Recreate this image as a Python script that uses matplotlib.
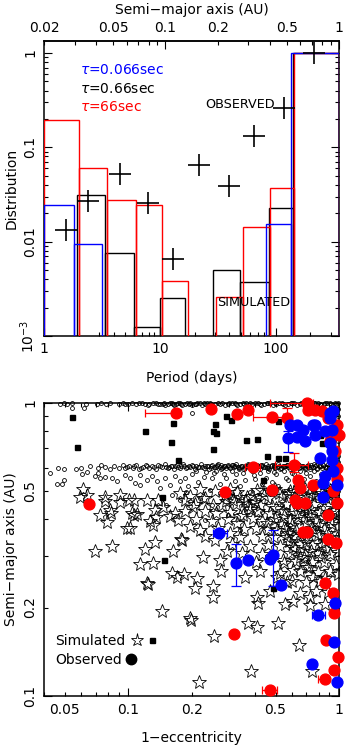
import numpy as np
import matplotlib
matplotlib.use("Agg")
import matplotlib.pyplot as plt
from matplotlib.ticker import FixedLocator, FixedFormatter, FuncFormatter, NullFormatter
from matplotlib.lines import Line2D
from matplotlib.legend_handler import HandlerTuple

plt.rcParams['font.family'] = ['DejaVu Sans']
plt.rcParams['mathtext.fontset'] = 'dejavusans'
plt.rcParams['font.size'] = 10

# ---------------- top panel data ----------------
period_lim = (1.0, 353.6)
dist_lim = (1e-3, 1.34)

blue_edges = [1.0, 1.816, 3.198, 82.5, 135.6, 353.6]
blue_vals = [0.0247, 0.0094, 0.0, 0.0154, 1.0]

black_edges = [1.917, 3.367, 6.0, 10.0, 16.55, 29.1, 49.4, 87.0, 140.3, 353.6]
black_vals = [0.031, 0.0075, 0.00124, 0.00249, 0.0, 0.0050, 0.00373, 0.0226, 1.0]

red_edges = [1.0, 1.994, 3.53, 6.24, 10.55, 17.7, 30.9, 51.9, 89.8, 144.8, 353.6]
red_vals = [0.197, 0.061, 0.0274, 0.0247, 0.00382, 0.0, 0.00259, 0.0143, 0.0374, 1.0]

obs_period = [1.55, 2.40, 4.54, 7.92, 13.0, 22.0, 39.7, 65.3, 118.0, 216.0]
obs_dist = [0.0132, 0.027, 0.0526, 0.0259, 0.0065, 0.0656, 0.0392, 0.131, 0.264, 1.0]

tau_labels = [r'$\tau$=0.066sec', r'$\tau$=0.66sec', r'$\tau$=66sec']
tau_colors = ['#0000ff', 'black', '#ff0000']

# ---------------- bottom panel data ----------------
stars = [(0.061, 0.507), (0.0637, 0.484), (0.059, 0.477), (0.0695, 0.311), (0.0734, 0.414),
         (0.078, 0.477), (0.078, 0.463), (0.0795, 0.392), (0.0818, 0.431), (0.083, 0.42),
         (0.084, 0.325), (0.0913, 0.484), (0.0913, 0.458), (0.0985, 0.375), (0.1005, 0.467),
         (0.1015, 0.375), (0.104, 0.42), (0.106, 0.466), (0.106, 0.414), (0.110, 0.417),
         (0.1136, 0.282), (0.12, 0.318), (0.1223, 0.466), (0.1223, 0.242), (0.1245, 0.24),
         (0.1268, 0.394), (0.131, 0.383), (0.131, 0.284), (0.134, 0.432), (0.134, 0.336),
         (0.135, 0.406), (0.138, 0.467), (0.145, 0.194), (0.146, 0.442), (0.158, 0.409),
         (0.161, 0.263), (0.164, 0.313), (0.167, 0.42), (0.170, 0.255), (0.173, 0.399),
         (0.176, 0.49), (0.179, 0.342), (0.181, 0.339), (0.184, 0.261), (0.186, 0.466),
         (0.186, 0.426), (0.196, 0.379), (0.196, 0.184), (0.199, 0.182), (0.202, 0.442),
         (0.207, 0.233), (0.211, 0.252), (0.216, 0.111), (0.219, 0.368), (0.226, 0.472),
         (0.226, 0.298), (0.253, 0.448), (0.253, 0.236), (0.253, 0.218), (0.256, 0.160),
         (0.258, 0.34), (0.272, 0.291), (0.277, 0.266), (0.293, 0.311), (0.304, 0.358),
         (0.315, 0.466), (0.327, 0.388), (0.352, 0.414), (0.358, 0.255), (0.365, 0.478),
         (0.371, 0.177), (0.381, 0.121), (0.392, 0.403), (0.407, 0.504), (0.407, 0.218),
         (0.407, 0.172), (0.414, 0.207), (0.454, 0.388), (0.506, 0.368), (0.506, 0.255),
         (0.515, 0.177), (0.544, 0.291), (0.565, 0.349), (0.565, 0.245), (0.607, 0.323),
         (0.607, 0.269), (0.607, 0.211), (0.646, 0.149), (0.653, 0.298), (0.703, 0.276),
         (0.728, 0.218), (0.742, 0.121), (0.755, 0.255),
         # dense cloud
         (0.219, 0.506), (0.258, 0.500), (0.304, 0.509), (0.431, 0.502), (0.497, 0.508),
         (0.585, 0.499), (0.69, 0.507), (0.795, 0.501), (0.906, 0.505),
         (0.196, 0.479), (0.231, 0.474), (0.288, 0.481), (0.339, 0.476), (0.387, 0.480),
         (0.46, 0.473), (0.536, 0.479), (0.632, 0.475), (0.745, 0.481), (0.858, 0.476),
         (0.957, 0.478),
         (0.207, 0.450), (0.278, 0.446), (0.325, 0.452), (0.37, 0.445), (0.422, 0.449),
         (0.481, 0.444), (0.56, 0.451), (0.653, 0.447), (0.761, 0.450), (0.887, 0.445),
         (0.231, 0.426), (0.261, 0.421), (0.304, 0.425), (0.413, 0.427), (0.47, 0.422),
         (0.542, 0.426), (0.618, 0.420), (0.713, 0.425), (0.812, 0.423), (0.936, 0.427),
         (0.209, 0.400), (0.249, 0.396), (0.298, 0.401), (0.431, 0.395), (0.497, 0.400),
         (0.585, 0.397), (0.682, 0.402), (0.778, 0.396), (0.906, 0.399),
         (0.266, 0.374), (0.354, 0.370), (0.404, 0.375), (0.46, 0.371), (0.548, 0.373),
         (0.625, 0.369), (0.745, 0.374), (0.849, 0.371),
         (0.231, 0.352), (0.339, 0.348), (0.431, 0.351), (0.492, 0.347), (0.605, 0.352),
         (0.697, 0.349), (0.795, 0.353), (0.916, 0.348),
         (0.311, 0.329), (0.378, 0.325), (0.46, 0.328), (0.525, 0.324), (0.653, 0.330),
         (0.745, 0.326), (0.83, 0.328),
         (0.347, 0.307), (0.431, 0.304), (0.585, 0.308), (0.69, 0.305), (0.795, 0.307),
         (0.906, 0.304),
         (0.404, 0.287), (0.548, 0.284), (0.625, 0.288), (0.745, 0.285), (0.849, 0.287),
         (0.422, 0.266), (0.525, 0.263), (0.653, 0.267), (0.795, 0.264), (0.906, 0.266),
         (0.598, 0.246), (0.697, 0.244), (0.812, 0.247),
         (0.47, 0.227), (0.653, 0.225), (0.778, 0.228), (0.887, 0.226),
         (0.554, 0.206), (0.728, 0.204), (0.858, 0.206),
         (0.985, 0.57), (0.975, 0.52), (0.99, 0.47), (0.98, 0.42), (0.99, 0.38),
         (0.975, 0.345), (0.985, 0.31), (0.97, 0.28), (0.99, 0.26),
         # extra density on the right
         (0.52, 0.492), (0.57, 0.487), (0.61, 0.495), (0.66, 0.489), (0.72, 0.493),
         (0.77, 0.486), (0.83, 0.491), (0.88, 0.488), (0.94, 0.494),
         (0.50, 0.437), (0.59, 0.432), (0.68, 0.438), (0.74, 0.433), (0.85, 0.436),
         (0.96, 0.431), (0.55, 0.410), (0.64, 0.407), (0.73, 0.412), (0.84, 0.408),
         (0.53, 0.386), (0.60, 0.383), (0.70, 0.388), (0.80, 0.384), (0.93, 0.387),
         (0.57, 0.360), (0.66, 0.357), (0.76, 0.362), (0.88, 0.358),
         (0.58, 0.337), (0.70, 0.334), (0.86, 0.338), (0.62, 0.316), (0.74, 0.313),
         (0.87, 0.317), (0.68, 0.295), (0.82, 0.298), (0.72, 0.275), (0.86, 0.252),
         (0.33, 0.497), (0.36, 0.462), (0.40, 0.458), (0.29, 0.463), (0.44, 0.486),
         (0.38, 0.433), (0.34, 0.410)]

squares = [(0.0539, 0.894), (0.0569, 0.704), (0.1204, 0.80), (0.1635, 0.852), (0.1594, 0.734),
           (0.1716, 0.636), (0.145, 0.477), (0.29, 0.899), (0.259, 0.848), (0.2515, 0.799),
           (0.2608, 0.786), (0.308, 0.875), (0.3607, 0.748), (0.4068, 0.75), (0.2515, 0.697),
           (0.455, 0.656), (0.512, 0.649), (0.554, 0.646), (0.515, 0.864), (0.437, 0.545),
           (0.1477, 0.29), (0.813, 0.776), (0.828, 0.727), (0.484, 0.234)]

circ_top = [(0.0474, 0.99), (0.0494, 0.995), (0.0515, 0.99), (0.054, 0.997), (0.0628, 0.993),
            (0.0711, 0.99), (0.0742, 0.996), (0.0784, 0.992), (0.0818, 0.998), (0.0903, 0.99),
            (0.0943, 0.995), (0.0996, 0.991), (0.104, 0.997), (0.109, 0.99), (0.116, 0.994),
            (0.1254, 0.99), (0.1355, 0.996), (0.1414, 0.991), (0.1477, 0.997), (0.154, 0.99),
            (0.161, 0.995), (0.169, 0.99), (0.176, 0.997), (0.186, 0.992), (0.196, 0.996),
            (0.207, 0.99), (0.219, 0.995), (0.231, 0.99), (0.244, 0.997), (0.258, 0.992),
            (0.278, 0.996), (0.298, 0.99), (0.321, 0.995), (0.339, 0.991), (0.362, 0.997),
            (0.387, 0.99), (0.413, 0.995), (0.441, 0.992), (0.470, 0.997), (0.502, 0.99),
            (0.536, 0.995), (0.573, 0.991), (0.611, 0.997), (0.653, 0.99), (0.697, 0.995),
            (0.745, 0.991), (0.795, 0.997), (0.849, 0.99), (0.906, 0.995), (0.968, 0.992),
            (0.150, 0.985), (0.158, 0.999), (0.165, 0.986), (0.173, 0.999), (0.181, 0.986),
            (0.191, 0.999), (0.201, 0.986), (0.213, 0.999), (0.225, 0.986), (0.237, 0.999),
            (0.251, 0.986), (0.268, 0.999), (0.288, 0.986), (0.31, 0.999), (0.33, 0.986),
            (0.35, 0.999), (0.374, 0.986), (0.40, 0.999), (0.427, 0.986), (0.455, 0.999),
            (0.486, 0.986), (0.519, 0.999), (0.554, 0.986), (0.592, 0.999), (0.632, 0.986),
            (0.675, 0.999), (0.72, 0.986), (0.77, 0.999), (0.82, 0.986), (0.877, 0.999),
            (0.936, 0.986), (0.99, 0.999),
            (0.0539, 0.959), (0.0618, 0.959), (0.1245, 0.984), (0.2, 0.92),
            (0.097, 0.988), (0.112, 0.998), (0.12, 0.987), (0.131, 0.999), (0.138, 0.988),
            (0.146, 0.993), (0.163, 0.992), (0.178, 0.993), (0.194, 0.989), (0.21, 0.993),
            (0.228, 0.994), (0.248, 0.989), (0.272, 0.993), (0.3, 0.995), (0.326, 0.989),
            (0.355, 0.993), (0.38, 0.996), (0.42, 0.99), (0.46, 0.994), (0.495, 0.996),
            (0.545, 0.99), (0.6, 0.994), (0.66, 0.996), (0.71, 0.99), (0.76, 0.994),
            (0.81, 0.993), (0.86, 0.996), (0.92, 0.99), (0.955, 0.997)]

circ_band = [(0.060, 0.600), (0.066, 0.606), (0.072, 0.598), (0.0745, 0.612), (0.078, 0.603),
             (0.082, 0.596), (0.086, 0.61), (0.09, 0.601), (0.094, 0.615), (0.097, 0.597),
             (0.101, 0.607), (0.105, 0.6), (0.109, 0.612), (0.113, 0.595), (0.117, 0.605),
             (0.121, 0.614), (0.126, 0.599), (0.13, 0.608), (0.135, 0.596), (0.139, 0.611),
             (0.144, 0.602), (0.149, 0.616), (0.154, 0.598), (0.159, 0.607), (0.165, 0.594),
             (0.17, 0.612), (0.176, 0.601), (0.182, 0.617), (0.188, 0.597), (0.194, 0.606),
             (0.2, 0.613), (0.207, 0.595), (0.214, 0.604), (0.221, 0.616), (0.228, 0.599),
             (0.236, 0.608), (0.243, 0.594), (0.251, 0.612), (0.26, 0.602), (0.268, 0.618),
             (0.277, 0.596), (0.286, 0.607), (0.296, 0.614), (0.305, 0.598), (0.316, 0.605),
             (0.326, 0.617), (0.337, 0.594), (0.348, 0.61), (0.36, 0.601), (0.372, 0.619),
             (0.384, 0.597), (0.397, 0.608), (0.41, 0.615), (0.424, 0.596), (0.438, 0.604),
             (0.452, 0.618), (0.467, 0.593), (0.483, 0.611), (0.499, 0.601), (0.516, 0.62),
             (0.533, 0.597), (0.551, 0.608), (0.569, 0.614), (0.588, 0.595), (0.608, 0.605),
             (0.628, 0.619), (0.649, 0.598), (0.67, 0.609), (0.693, 0.593), (0.716, 0.615),
             (0.739, 0.602), (0.764, 0.62), (0.79, 0.596), (0.816, 0.607), (0.843, 0.614),
             (0.871, 0.597), (0.9, 0.606), (0.93, 0.619), (0.961, 0.6), (0.99, 0.61),
             (0.275, 0.612), (0.292, 0.6), (0.31, 0.615), (0.331, 0.603), (0.354, 0.596),
             (0.378, 0.611), (0.403, 0.6), (0.431, 0.614), (0.46, 0.598), (0.49, 0.607),
             (0.524, 0.593), (0.56, 0.61), (0.598, 0.6), (0.64, 0.617), (0.683, 0.605),
             (0.728, 0.595), (0.778, 0.611), (0.83, 0.601), (0.887, 0.616), (0.946, 0.598),
             (0.099, 0.603), (0.107, 0.609), (0.115, 0.601), (0.123, 0.606), (0.132, 0.603),
             (0.141, 0.608), (0.151, 0.604), (0.161, 0.61), (0.172, 0.603), (0.185, 0.609),
             (0.197, 0.602), (0.21, 0.609), (0.224, 0.604), (0.239, 0.61), (0.255, 0.605),
             (0.272, 0.603), (0.289, 0.61), (0.3, 0.604), (0.321, 0.609), (0.342, 0.606),
             (0.365, 0.608), (0.39, 0.604), (0.417, 0.609), (0.444, 0.603), (0.475, 0.61),
             (0.506, 0.604), (0.54, 0.609), (0.576, 0.603), (0.618, 0.61), (0.66, 0.602),
             (0.705, 0.609), (0.75, 0.604), (0.8, 0.61), (0.855, 0.603), (0.915, 0.609),
             (0.975, 0.605),
             (0.246, 0.598), (0.263, 0.613), (0.28, 0.6), (0.313, 0.611), (0.334, 0.598),
             (0.369, 0.614), (0.393, 0.599), (0.427, 0.612), (0.456, 0.6), (0.494, 0.613),
             (0.53, 0.6), (0.564, 0.614), (0.603, 0.599), (0.645, 0.612), (0.688, 0.599),
             (0.733, 0.613), (0.784, 0.6), (0.836, 0.613), (0.893, 0.6), (0.952, 0.614),
             (0.157, 0.605), (0.167, 0.607), (0.179, 0.606), (0.191, 0.604), (0.203, 0.607),
             (0.217, 0.605), (0.231, 0.607), (0.248, 0.606), (0.265, 0.607), (0.282, 0.605),
             (0.298, 0.607), (0.318, 0.606), (0.338, 0.605), (0.357, 0.607), (0.38, 0.606),
             (0.405, 0.605), (0.433, 0.607), (0.462, 0.606), (0.492, 0.605), (0.522, 0.607),
             (0.557, 0.606), (0.594, 0.605), (0.633, 0.607), (0.675, 0.606), (0.72, 0.605),
             (0.769, 0.607), (0.822, 0.606), (0.878, 0.605), (0.938, 0.607), (0.995, 0.606)]

circ_scatter = [(0.0425, 0.575), (0.0465, 0.598), (0.0495, 0.594), (0.0563, 0.594), (0.046, 0.528),
                (0.0483, 0.528), (0.0495, 0.545), (0.0601, 0.571), (0.0635, 0.58), (0.0695, 0.562),
                (0.072, 0.575), (0.0734, 0.553), (0.0775, 0.557), (0.0834, 0.553), (0.0881, 0.541),
                (0.0965, 0.566), (0.1019, 0.553), (0.1076, 0.532), (0.1136, 0.566), (0.1136, 0.524),
                (0.1223, 0.545), (0.1291, 0.562), (0.1364, 0.541), (0.1414, 0.512), (0.1493, 0.553),
                (0.1577, 0.524), (0.1666, 0.562), (0.1759, 0.541), (0.1858, 0.553), (0.1926, 0.52),
                (0.2005, 0.570), (0.2142, 0.536), (0.2287, 0.557), (0.244, 0.504), (0.255, 0.575),
                (0.272, 0.528), (0.291, 0.553), (0.304, 0.484), (0.3245, 0.570), (0.339, 0.520),
                (0.358, 0.545), (0.378, 0.496), (0.395, 0.566), (0.413, 0.466), (0.431, 0.528),
                (0.450, 0.553), (0.470, 0.488), (0.492, 0.580), (0.5135, 0.520), (0.536, 0.448),
                (0.560, 0.553), (0.585, 0.504), (0.611, 0.571), (0.639, 0.473), (0.667, 0.536),
                (0.697, 0.431), (0.728, 0.562), (0.761, 0.496), (0.795, 0.528), (0.830, 0.466),
                (0.868, 0.566), (0.906, 0.512), (0.947, 0.414), (0.362, 0.437), (0.431, 0.424),
                (0.502, 0.398), (0.585, 0.383), (0.653, 0.354), (0.745, 0.372), (0.812, 0.340),
                (0.339, 0.368), (0.298, 0.414), (0.249, 0.448), (0.219, 0.473), (0.188, 0.496),
                (0.176, 0.466), (0.161, 0.484), (0.151, 0.448), (0.231, 0.398), (0.269, 0.368),
                (0.985, 0.95), (0.99, 0.9), (0.98, 0.86), (0.99, 0.82), (0.985, 0.78),
                (0.99, 0.74), (0.98, 0.70), (0.99, 0.66), (0.985, 0.63), (0.99, 0.57),
                (0.98, 0.53), (0.99, 0.50), (0.985, 0.47), (0.99, 0.44),
                (0.21, 0.585), (0.235, 0.578), (0.262, 0.586), (0.285, 0.572), (0.31, 0.583),
                (0.35, 0.576), (0.385, 0.587), (0.42, 0.574), (0.46, 0.585), (0.5, 0.57),
                (0.55, 0.584), (0.6, 0.577), (0.65, 0.586), (0.7, 0.574), (0.76, 0.583),
                (0.82, 0.572), (0.89, 0.585), (0.95, 0.577), (0.25, 0.555), (0.32, 0.54),
                (0.4, 0.548), (0.48, 0.535), (0.57, 0.545), (0.68, 0.55), (0.78, 0.54),
                (0.88, 0.548), (0.44, 0.51), (0.62, 0.52), (0.74, 0.51), (0.86, 0.49)]

red_obs = [(0.1694, 0.926), (0.247, 0.955), (0.327, 0.915), (0.370, 0.942), (0.479, 0.894),
           (0.565, 0.887), (0.703, 0.995), (0.715, 0.946), (0.769, 0.946), (0.828, 0.935),
           (0.890, 0.887), (0.975, 0.841), (1.0, 0.778), (0.906, 0.738), (0.957, 0.682),
           (0.978, 0.599), (0.978, 0.551), (0.389, 0.604), (0.611, 0.611), (0.641, 0.546),
           (0.653, 0.512), (0.755, 0.522), (0.479, 0.504), (0.288, 0.495), (0.94, 0.498),
           (0.618, 0.466), (0.69, 0.454), (0.89, 0.414), (0.975, 0.454), (0.0653, 0.45),
           (0.63, 0.455), (0.677, 0.363), (0.705, 0.363), (0.89, 0.344), (0.968, 0.332),
           (0.858, 0.242), (0.94, 0.225), (0.942, 0.192), (0.317, 0.163), (0.87, 0.155),
           (0.992, 0.1355), (0.947, 0.122), (0.858, 0.1136), (0.469, 0.1047)]

blue_obs = [(0.585, 0.841), (0.632, 0.841), (0.677, 0.809), (0.769, 0.841), (0.573, 0.758),
            (0.69, 0.738), (0.769, 0.778), (0.858, 0.799), (0.923, 0.809), (0.94, 0.935),
            (0.906, 0.887), (0.813, 0.648), (0.923, 0.682), (0.923, 0.639), (0.858, 0.561),
            (0.842, 0.532), (0.94, 0.583), (0.975, 0.525), (0.632, 0.766), (0.755, 0.839),
            (0.906, 0.92), (0.906, 0.727), (0.842, 0.478), (0.269, 0.359), (0.323, 0.283),
            (0.369, 0.29), (0.471, 0.293), (0.488, 0.302), (0.531, 0.238), (0.957, 0.207),
            (0.798, 0.188), (0.942, 0.153), (0.747, 0.1285), (0.984, 0.1118)]

# error bars: (x, a, low, high)
red_xerr = [(0.1694, 0.926, 0.120, 0.179), (0.479, 0.894, 0.393, 0.544), (0.389, 0.604, 0.358, 0.422),
            (0.611, 0.611, 0.497, 0.715), (0.469, 0.1047, 0.43, 0.506), (0.858, 0.1136, 0.798, 0.88),
            (0.703, 0.995, 0.47, 0.75)]
red_yerr = [(0.611, 0.611, 0.58, 0.673), (0.565, 0.887, 0.866, 0.96)]
blue_xerr = [(0.269, 0.359, 0.2515, 0.293), (0.798, 0.188, 0.745, 0.858)]
blue_yerr = [(0.323, 0.283, 0.236, 0.33), (0.488, 0.302, 0.236, 0.367), (0.573, 0.758, 0.68, 0.80)]

RED = '#ff0000'
BLUE = '#0000ff'

fig = plt.figure(figsize=(3.46, 7.48), dpi=100)
ax1 = fig.add_axes([0.1272, 0.5508, 0.8526, 0.3944])
ax2 = fig.add_axes([0.128, 0.0699, 0.8517, 0.3917])

# ---------------- top panel ----------------
ax1.set_xscale('log')
ax1.set_yscale('log')
ax1.set_xlim(*period_lim)
ax1.set_ylim(*dist_lim)


def draw_hist(ax, edges, vals, color, z):
    edges = np.asarray(edges, dtype=float)
    vals = np.asarray(vals, dtype=float)
    m = vals > 0
    ax.bar(edges[:-1][m], vals[m], width=np.diff(edges)[m], align='edge', bottom=1e-5,
           fill=False, edgecolor=color, linewidth=1.0, zorder=z)


draw_hist(ax1, black_edges, black_vals, 'black', 2)
draw_hist(ax1, red_edges, red_vals, RED, 3)
draw_hist(ax1, blue_edges, blue_vals, BLUE, 4)

ax1.plot(obs_period, obs_dist, ls='none', marker='+', ms=16.5, mew=1.2, color='black', zorder=5)

for i, (lab, col) in enumerate(zip(tau_labels, tau_colors)):
    ax1.text(0.122, 0.901 - i * 0.063, lab, color=col, transform=ax1.transAxes,
             ha='left', va='center', fontsize=10)
ax1.text(0.547, 0.784, 'OBSERVED', transform=ax1.transAxes, ha='left', va='center', fontsize=9.2)
ax1.text(0.588, 0.112, 'SIMULATED', transform=ax1.transAxes, ha='left', va='center', fontsize=9.2)

ax1.xaxis.set_major_locator(FixedLocator([1, 10, 100]))
ax1.xaxis.set_major_formatter(FixedFormatter(['1', '10', '100']))
ax1.xaxis.set_minor_locator(FixedLocator([2, 3, 4, 5, 6, 7, 8, 9, 20, 30, 40, 50, 60, 70, 80, 90, 200, 300]))
ax1.xaxis.set_minor_formatter(NullFormatter())
ax1.yaxis.set_major_locator(FixedLocator([1e-3, 1e-2, 1e-1, 1]))
ax1.yaxis.set_major_formatter(FixedFormatter([r'$10^{-3}$', '0.01', '0.1', '1']))
ax1.yaxis.set_minor_locator(FixedLocator([k * 10.0 ** e for e in (-3, -2, -1) for k in range(2, 10)]))
ax1.yaxis.set_minor_formatter(NullFormatter())
ax1.tick_params(which='both', direction='in', top=False, right=True, width=0.8)
ax1.tick_params(which='major', length=6)
ax1.tick_params(which='minor', length=3)
ax1.tick_params(axis='x', pad=4)
ax1.tick_params(axis='y', pad=5, labelrotation=90)

sec = ax1.secondary_xaxis('top', functions=(lambda p: 0.02 * np.abs(p) ** (2.0 / 3.0),
                                            lambda a: (np.abs(a) / 0.02) ** 1.5))
sec.xaxis.set_major_locator(FixedLocator([0.1, 1.0]))
sec.xaxis.set_major_formatter(FixedFormatter(['0.1', '1']))
sec_minor = [0.02, 0.03, 0.04, 0.05, 0.06, 0.07, 0.08, 0.09, 0.2, 0.3, 0.4, 0.5, 0.6, 0.7, 0.8, 0.9]
sec.xaxis.set_minor_locator(FixedLocator(sec_minor))
sec_lab = {0.02: '0.02', 0.05: '0.05', 0.2: '0.2', 0.5: '0.5'}
sec.xaxis.set_minor_formatter(FuncFormatter(lambda v, pos: sec_lab.get(round(v, 3), '')))
sec.tick_params(which='both', direction='in', width=0.8, pad=4, labelsize=10)
sec.tick_params(which='major', length=6)
sec.tick_params(which='minor', length=3)
sec.set_xlabel('Semi\u2212major axis (AU)', labelpad=5)

ax1.set_xlabel('Period (days)')
ax1.xaxis.set_label_coords(0.5, -0.117)
ax1.set_ylabel('Distribution')
ax1.yaxis.set_label_coords(-0.085, 0.5)

# ---------------- bottom panel ----------------
ax2.set_xscale('log')
ax2.set_yscale('log')
ax2.set_xlim(0.04, 1.0)
ax2.set_ylim(0.1, 1.0)


def xy(pts):
    arr = np.asarray(pts, dtype=float)
    return arr[:, 0], arr[:, 1]


for pts in (circ_top, circ_band, circ_scatter):
    x, y = xy(pts)
    ax2.plot(x, y, ls='none', marker='o', ms=2.8, mfc='none', mec='black', mew=0.6,
             zorder=2, clip_on=False)

x, y = xy(stars)
ax2.plot(x, y, ls='none', marker='*', ms=10, mfc='none', mec='black', mew=0.6, zorder=3)
x, y = xy(squares)
ax2.plot(x, y, ls='none', marker='s', ms=3.6, color='black', zorder=4)


def err(ax, pts, color, axis):
    arr = np.asarray(pts, dtype=float)
    xs, ys, lo, hi = arr[:, 0], arr[:, 1], arr[:, 2], arr[:, 3]
    if axis == 'x':
        ax.errorbar(xs, ys, xerr=[xs - lo, hi - xs], fmt='none', ecolor=color,
                    elinewidth=0.9, capsize=2.8, capthick=0.9, zorder=5, clip_on=False)
    else:
        ax.errorbar(xs, ys, yerr=[ys - lo, hi - ys], fmt='none', ecolor=color,
                    elinewidth=0.9, capsize=3.5, capthick=0.9, zorder=5, clip_on=False)


err(ax2, red_xerr, RED, 'x')
err(ax2, red_yerr, RED, 'y')
err(ax2, blue_xerr, BLUE, 'x')
err(ax2, blue_yerr, BLUE, 'y')

x, y = xy(red_obs)
ax2.plot(x, y, ls='none', marker='o', ms=7.8, color=RED, mec=RED, zorder=6, clip_on=False)
x, y = xy(blue_obs)
ax2.plot(x, y, ls='none', marker='o', ms=7.8, color=BLUE, mec=BLUE, zorder=7, clip_on=False)

ax2.xaxis.set_major_locator(FixedLocator([0.1, 1.0]))
ax2.xaxis.set_major_formatter(FixedFormatter(['0.1', '1']))
ax2.xaxis.set_minor_locator(FixedLocator([0.04, 0.05, 0.06, 0.07, 0.08, 0.09, 0.2, 0.3, 0.4, 0.5, 0.6, 0.7, 0.8, 0.9]))
x_lab = {0.05: '0.05', 0.2: '0.2', 0.5: '0.5'}
ax2.xaxis.set_minor_formatter(FuncFormatter(lambda v, pos: x_lab.get(round(v, 3), '')))
ax2.yaxis.set_major_locator(FixedLocator([0.1, 1.0]))
ax2.yaxis.set_major_formatter(FixedFormatter(['0.1', '1']))
ax2.yaxis.set_minor_locator(FixedLocator([0.2, 0.3, 0.4, 0.5, 0.6, 0.7, 0.8, 0.9]))
y_lab = {0.2: '0.2', 0.5: '0.5'}
ax2.yaxis.set_minor_formatter(FuncFormatter(lambda v, pos: y_lab.get(round(v, 3), '')))
ax2.tick_params(which='both', direction='in', top=True, right=True, width=0.8, labelsize=10)
ax2.tick_params(which='major', length=6)
ax2.tick_params(which='minor', length=3)
ax2.tick_params(axis='x', which='both', pad=5)
ax2.tick_params(axis='y', which='both', pad=5, labelrotation=90)

ax2.set_xlabel('1\u2212eccentricity')
ax2.xaxis.set_label_coords(0.5, -0.121)
ax2.set_ylabel('Semi\u2212major axis (AU)')
ax2.yaxis.set_label_coords(-0.088, 0.5)

h_star = Line2D([], [], ls='none', marker='*', ms=9.5, mfc='none', mec='black', mew=0.6)
h_sq = Line2D([], [], ls='none', marker='s', ms=3.6, color='black')
h_obs = Line2D([], [], ls='none', marker='o', ms=7.5, color='black')
leg1 = ax2.legend([(h_star, h_sq)], ['Simulated'],
                  handler_map={tuple: HandlerTuple(ndivide=None, pad=0.2)},
                  markerfirst=False, frameon=False, loc='center left',
                  bbox_to_anchor=(0.036, 0.188), borderpad=0, borderaxespad=0,
                  handlelength=2.0, handletextpad=0.4, fontsize=10)
ax2.add_artist(leg1)
ax2.legend([h_obs], ['Observed'], markerfirst=False, frameon=False, loc='center left',
           bbox_to_anchor=(0.036, 0.123), borderpad=0, borderaxespad=0,
           handlelength=0.8, handletextpad=0.3, fontsize=10)

for a in (ax1, ax2):
    for s in a.spines.values():
        s.set_linewidth(1.1)
for s in sec.spines.values():
    s.set_linewidth(1.1)

for a in (ax1, ax2):
    for lab in a.get_yticklabels(which='both'):
        lab.set_va('center')

fig.savefig('out.png', dpi=100)
